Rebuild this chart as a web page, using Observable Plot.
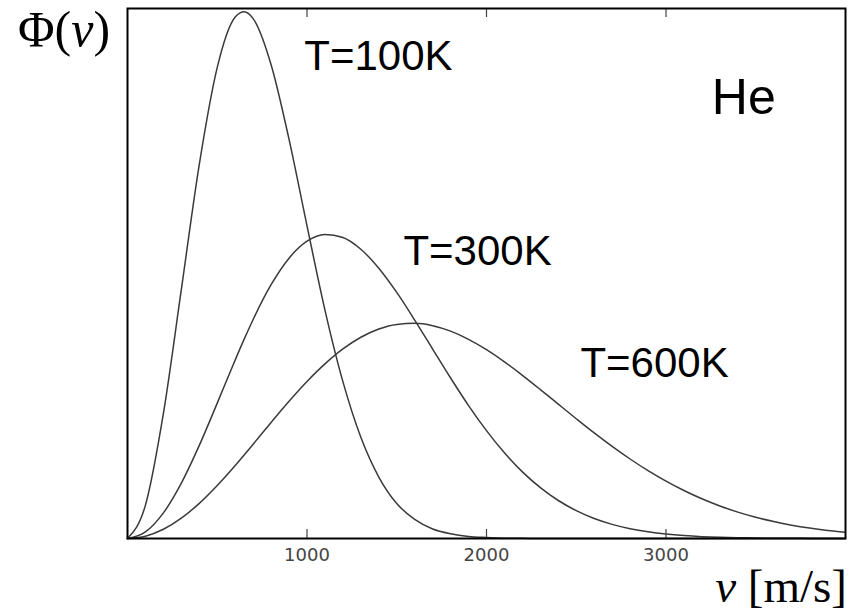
<!DOCTYPE html>
<html><head><meta charset="utf-8">
<script src="https://cdn.jsdelivr.net/npm/d3@7"></script>
<script src="https://cdn.jsdelivr.net/npm/@observablehq/plot@0.6"></script>
<style>body{margin:0;background:#fff} #chart svg{display:block}</style>
</head><body><div id="chart"></div>
<script>
// speeds in m/s
const speeds = [0,100,200,300,400,500,600,650,700,800,900,1000,1100,1200,1300,1400,1500,1600,1700,1800,1900,2000,2100,2200,2300,2400,2500,2600,2700,2800,2900,3000,3100,3200,3300,3400,3500,3600,3700,3800,3900,4000];
// Phi(v), relative units
const phi100K = [0,0.063,0.236,0.470,0.706,0.889,0.984,0.994,0.981,0.894,0.753,0.590,0.431,0.296,0.191,0.116,0.066,0.036,0.018,0.009,0.004,0.002,0.0007,0.0003,0,0,0,0,0,0,0,0,0,0,0,0,0,0,0,0,0,0];
const phi300K = [0,0.0124,0.0483,0.1045,0.1757,0.2555,0.3369,0.3761,0.4133,0.4788,0.5289,0.5609,0.5737,0.5680,0.5458,0.5100,0.4643,0.4122,0.3574,0.3028,0.2508,0.2035,0.1616,0.1257,0.0959,0.0717,0.0526,0.0378,0.0267,0.0185,0.0126,0.0084,0.0055,0.0035,0.0022,0.0014,0.0008,0.0005,0.0003,0.0002,0.0001,0.0001];
const phi600K = [0,0.0044,0.0174,0.0384,0.0663,0.1000,0.1378,0.1577,0.1780,0.2190,0.2589,0.2962,0.3294,0.3576,0.3797,0.3952,0.4039,0.4059,0.4015,0.3912,0.3758,0.3562,0.3333,0.3079,0.2810,0.2534,0.2260,0.1992,0.1738,0.1500,0.1280,0.1082,0.0905,0.0749,0.0614,0.0498,0.0400,0.0319,0.0251,0.0196,0.0152,0.0117];
const seriesNames = ["T=100K","T=300K","T=600K"];
const xTicks = [1000,2000,3000];
// curve labels (anchor in data units)
const labelText = ["T=100K","T=300K","T=600K"];
const labelV = [985,1537,2523];
const labelPhi = [0.909,0.542,0.330];
const gasName = "He";

const seriesValues = [phi100K, phi300K, phi600K];
const rows = [];
seriesNames.forEach((name, s) => speeds.forEach((v, i) => rows.push({v, phi: seriesValues[s][i], T: name})));
const labels = labelText.map((t, i) => ({text: t, v: labelV[i], phi: labelPhi[i]}));

const plot = Plot.plot({
  width: 859, height: 612,
  marginLeft: 127, marginRight: 14, marginTop: 8, marginBottom: 74,
  x: {domain: [0, 4000], axis: null, label: null},
  y: {domain: [0, 1], axis: null, label: null},
  style: {background: "white", fontFamily: "'Liberation Sans', Arial, sans-serif", overflow: "visible"},
  marks: [
    Plot.line(rows, {x: "v", y: "phi", z: "T", stroke: "#3a3a3a", strokeWidth: 1.5, curve: "monotone-x"}),
    Plot.ruleX(xTicks, {x: d => d, y1: 0, y2: 0.017, stroke: "#444", strokeWidth: 1.2}),
    Plot.ruleX(xTicks, {x: d => d, y1: 0.983, y2: 1, stroke: "#444", strokeWidth: 1.2}),
    Plot.axisX({ticks: xTicks, anchor: "bottom", label: null, tickSize: 0, tickPadding: 10, fontSize: 18,
      color: "#444", fontFamily: "'DejaVu Sans', Verdana, sans-serif", tickFormat: d => String(d)}),
    Plot.text(labels, {x: "v", y: "phi", text: "text", textAnchor: "start", lineAnchor: "middle", fontSize: 42, fill: "black"}),
    Plot.text([gasName], {x: 3255, y: 0.831, text: d => d, textAnchor: "start", lineAnchor: "middle", fontSize: 50, fill: "black"}),
    Plot.frame({stroke: "black", strokeWidth: 2})
  ]
});
document.getElementById("chart").appendChild(plot);

const svg = d3.select(plot);
const yl = svg.append("text").attr("x", 18).attr("y", 46).attr("text-anchor", "start")
  .style("font-family", "'Liberation Serif', 'Times New Roman', serif").style("font-size", "50px").attr("fill", "black");
yl.append("tspan").text("Φ(");
yl.append("tspan").attr("font-style", "italic").text("v");
yl.append("tspan").text(")");
const xl = svg.append("text").attr("x", 847).attr("y", 602).attr("text-anchor", "end")
  .style("font-family", "'Liberation Serif', 'Times New Roman', serif").style("font-size", "47px").attr("fill", "black");
xl.append("tspan").attr("font-style", "italic").text("v");
xl.append("tspan").text(" [m/s]");
</script>
</body></html>
